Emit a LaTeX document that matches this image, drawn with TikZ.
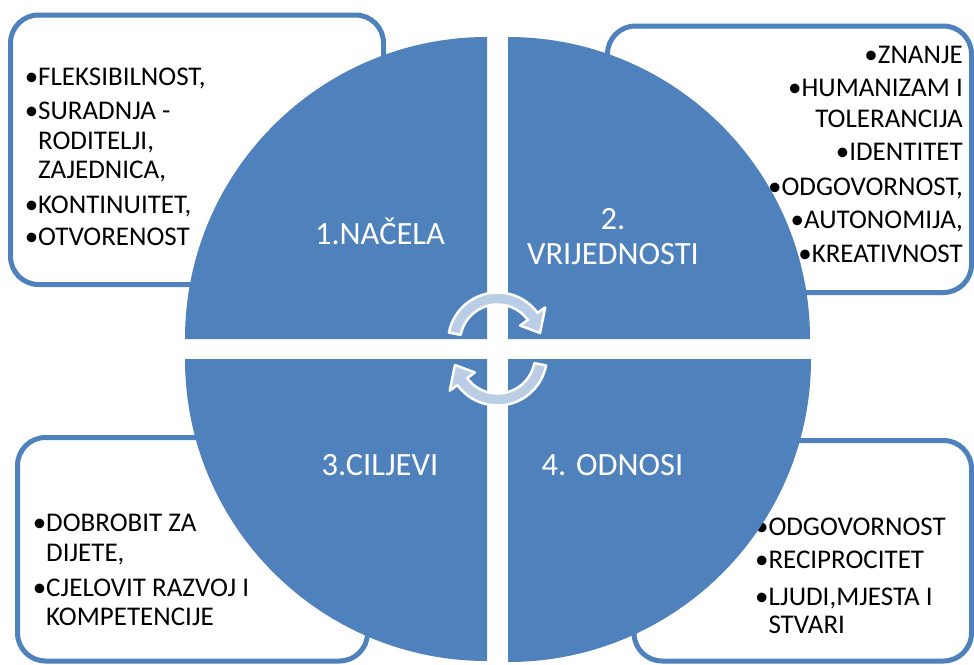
\documentclass[tikz,border=0pt]{standalone}
\usepackage{fontspec}
\setmainfont{Carlito}
\definecolor{accent}{RGB}{79,129,189}
\definecolor{arrowfill}{RGB}{185,205,229}
\tikzset{
  box/.style={draw=accent, line width=5pt, rounded corners=28pt},
  quarter/.style={fill=accent},
  itemtext/.style={font=\fontsize{27}{30}\selectfont, inner sep=0pt, text=black},
  quadlabel/.style={font=\fontsize{32.5}{36}\selectfont, inner sep=0pt, text=white, anchor=base},
  cyclearrow/.style={fill=arrowfill, draw=white, line width=2.5pt, line join=round}
}
\begin{document}
\begin{tikzpicture}[x=1pt,y=1pt]
\fill[white] (0,0) rectangle (974,-664);
\useasboundingbox (0,0) rectangle (974,-664);

% boxes
\draw[box] (10.5,-15) rectangle (383.5,-284.5);
\draw[box] (607.5,-26) rectangle (971.5,-292.5);
\draw[box] (17.5,-437.5) rectangle (367.5,-661);
\draw[box] (634,-440.5) rectangle (971.5,-661);

% top-left items
\node[itemtext, anchor=base west] (a1) at (38,-85) {\llap{•}FLEKSIBILNOST,};
\node[itemtext, anchor=base west] (a2) at (38,-119) {\llap{•}SURADNJA -};
\node[itemtext, anchor=base west] (a3) at (38,-149) {RODITELJI,};
\node[itemtext, anchor=base west] (a4) at (38,-178) {ZAJEDNICA,};
\node[itemtext, anchor=base west] (a5) at (38,-213) {\llap{•}KONTINUITET,};
\node[itemtext, anchor=base west] (a6) at (38,-245) {\llap{•}OTVORENOST};

% top-right items
\node[itemtext, anchor=base east] (b1) at (963,-63.3) {•ZNANJE};
\node[itemtext, anchor=base east] (b2) at (963,-96.7) {•HUMANIZAM I};
\node[itemtext, anchor=base east] (b3) at (963,-127) {TOLERANCIJA};
\node[itemtext, anchor=base east] (b4) at (963,-160) {•IDENTITET};
\node[itemtext, anchor=base east] (b5) at (963,-195) {•ODGOVORNOST,};
\node[itemtext, anchor=base east] (b6) at (963,-228) {•AUTONOMIJA,};
\node[itemtext, anchor=base east] (b7) at (963,-262) {•KREATIVNOST};

% bottom-left items
\node[itemtext, anchor=base west] (c1) at (46,-531.7) {\llap{•}DOBROBIT ZA};
\node[itemtext, anchor=base west] (c2) at (46,-561.7) {DIJETE,};
\node[itemtext, anchor=base west] (c3) at (46,-596.7) {\llap{•}CJELOVIT RAZVOJ I};
\node[itemtext, anchor=base west] (c4) at (46,-625) {KOMPETENCIJE};

% bottom-right items
\node[itemtext, anchor=base west] (d1) at (768.3,-535) {\llap{•}ODGOVORNOST};
\node[itemtext, anchor=base west] (d2) at (768.3,-568.3) {\llap{•}RECIPROCITET};
\node[itemtext, anchor=base west] (d3) at (768.3,-605) {\llap{•}LJUDI,MJESTA I};
\node[itemtext, anchor=base west] (d4) at (768.3,-633.3) {STVARI};

% quarter discs
\fill[quarter] (487,-339) -- ++(-302,0) arc[start angle=180, end angle=90, radius=302] -- cycle;
\fill[quarter] (508,-339) -- ++(0,302) arc[start angle=90, end angle=0, radius=302] -- cycle;
\fill[quarter] (487,-359) -- ++(-302,0) arc[start angle=180, end angle=270, radius=302] -- cycle;
\fill[quarter] (508,-359) -- ++(303,0) arc[start angle=0, end angle=-90, radius=303] -- cycle;

% quadrant labels
\node[quadlabel] (q1) at (380,-244) {1.NAČELA};
\node[quadlabel] (q2a) at (613,-229) {2.};
\node[quadlabel] (q2b) at (613,-264) {VRIJEDNOSTI};
\node[quadlabel] (q3) at (380,-475) {3.CILJEVI};
\node[quadlabel] (q4) at (612.5,-475) {4. ODNOSI};

% cycle arrows
\coordinate (U) at (497.5,-342);
\coordinate (L) at (497.5,-356);
\draw[cyclearrow] ([shift={(169:37.5)}]U) arc[start angle=169, end angle=36, radius=37.5]
  -- ([shift={(36:28)}]U) -- ([shift={(12:43.5)}]U) -- ([shift={(36:59)}]U)
  -- ([shift={(36:49.5)}]U) arc[start angle=36, end angle=169, radius=49.5] -- cycle;
\draw[cyclearrow] ([shift={(-11:37.5)}]L) arc[start angle=-11, end angle=-144, radius=37.5]
  -- ([shift={(216:28)}]L) -- ([shift={(192:43.5)}]L) -- ([shift={(216:59)}]L)
  -- ([shift={(216:49.5)}]L) arc[start angle=216, end angle=349, radius=49.5] -- cycle;
\end{tikzpicture}
\end{document}
